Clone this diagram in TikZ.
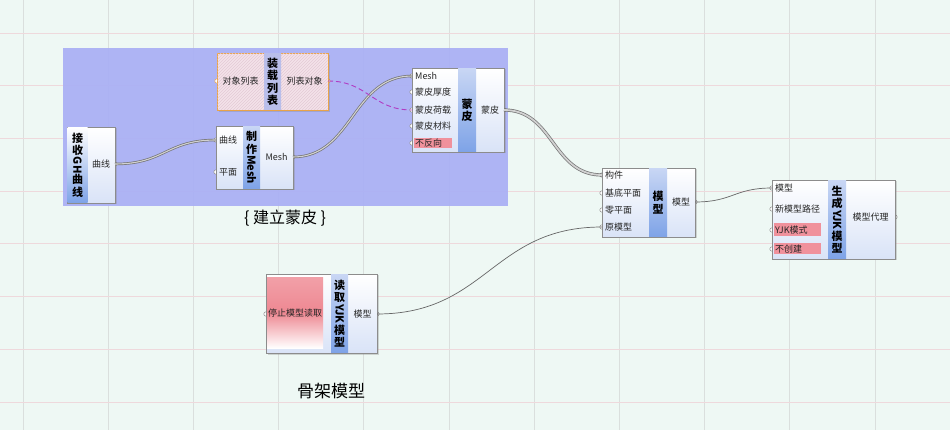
\documentclass[tikz,border=0pt]{standalone}
\usepackage{fontspec}
\setmainfont{Noto Sans CJK SC}
\usepackage{graphicx}
\usetikzlibrary{positioning,patterns,shadows}
\definecolor{canvas}{HTML}{EEF8F4}
\definecolor{gridgrey}{HTML}{DADFDD}
\definecolor{gridpink}{HTML}{EED9DC}
\definecolor{groupblue}{HTML}{A9AFF5}
\definecolor{compblue}{HTML}{D9E3F7}
\definecolor{stripa}{HTML}{C8D6F4}
\definecolor{stripb}{HTML}{7EA3E7}
\definecolor{flagred}{HTML}{F0919C}
\definecolor{stopred}{HTML}{EE8892}
\definecolor{listpink}{HTML}{F4E2E9}
\definecolor{listhatch}{HTML}{E4CAD5}
\definecolor{listedge}{HTML}{E9A34A}
\definecolor{liststrip}{HTML}{B9BEEA}
\definecolor{treewire}{HTML}{B03CC4}
\begin{document}
\begin{tikzpicture}[x=1pt,y=-1pt,
gridv/.style={draw=gridgrey,line width=0.8pt},
gridh/.style={draw=gridpink,line width=0.8pt},
comp/.style={draw=black!45,line width=0.6pt,top color=white,bottom color=compblue,inner sep=0pt,anchor=north west,drop shadow={shadow xshift=1.2pt,shadow yshift=-1.2pt,opacity=.3}},
strip/.style={top color=stripa,bottom color=stripb,inner sep=0pt,anchor=north west,font=\fontsize{11}{12.5}\selectfont\bfseries,align=center},
port/.style={font=\fontsize{9}{10}\selectfont,inner sep=0pt,anchor=west,text=black!85},
outp/.style={font=\fontsize{9}{10}\selectfont,inner sep=0pt,text=black!85},
flag/.style={port,fill=flagred,inner xsep=1pt,minimum width=#1,text width=#1-2pt},
grip/.style={fill=white,draw=black!45,line width=0.5pt},
wire/.style={draw=black!55,double=black!18,double distance=1.1pt,line width=0.7pt},
fatwire/.style={wire,double distance=1.8pt},
thinwire/.style={draw=black!60,line width=0.7pt},
treelink/.style={draw=treewire,dashed,dash pattern=on 5pt off 3pt,line width=0.9pt}]
\useasboundingbox (0,0) rectangle (950,430);
\fill[canvas] (0,0) rectangle (950,430);
\foreach \i in {0,...,10} \draw[gridv] (23+85.2*\i,0) -- (23+85.2*\i,430);
\foreach \j in {0,...,7} \draw[gridh] (0,33+52.7*\j) -- (950,33+52.7*\j);
\fill[groupblue,fill opacity=.92] (63,48) rectangle (508,206);
\node[font=\fontsize{16}{17}\selectfont] (grpname) at (285,218) {\{\ 建立蒙皮\ \}};
\node[font=\fontsize{17}{18}\selectfont] (gjname) at (331,391) {骨架模型};
\coordinate (jso) at (115,164);
\coordinate (mki1) at (216,140); \coordinate (mki2) at (216,172); \coordinate (mko) at (293,157);
\coordinate (zzi) at (217,81); \coordinate (zzo) at (328,81);
\coordinate (mpi1) at (412,76); \coordinate (mpi2) at (412,92); \coordinate (mpi3) at (412,110); \coordinate (mpi4) at (412,126); \coordinate (mpi5) at (412,143); \coordinate (mpo) at (504,110);
\coordinate (mxi1) at (602,175); \coordinate (mxi2) at (602,193); \coordinate (mxi3) at (602,210); \coordinate (mxi4) at (602,227); \coordinate (mxo) at (695,202);
\coordinate (sci1) at (772,188); \coordinate (sci2) at (772,209); \coordinate (sci3) at (772,230); \coordinate (sci4) at (772,249); \coordinate (sco) at (895,217);
\coordinate (dqi) at (266,314); \coordinate (dqo) at (377,314);
\foreach \g in {jso,mki1,mki2,mko,mpi1,mpi2,mpi3,mpi4,mpi5,mpo,mxi1,mxi2,mxi3,mxi4,mxo,sci1,sci2,sci3,sci4,sco,dqi,dqo}
  \filldraw[grip] (\g) circle (2.2);
\filldraw[grip,draw=listedge] (zzi) circle (2.2); \filldraw[grip,draw=listedge] (zzo) circle (2.2);
\node[comp,minimum width=48,minimum height=76] (js) at (67,127) {};
\node[strip,minimum width=20,minimum height=75,top color=white] (jst) at (67.3,127.5) {接\\收\\\rotatebox[origin=c]{-90}{GH}\\曲\\线};
\node[outp] (jsc) at (101,164) {曲线};
\node[comp,minimum width=77,minimum height=63] (mk) at (216,126) {};
\node[strip,minimum width=17,minimum height=62] (mkt) at (243,126.5) {制\\作\\\rotatebox[origin=c]{-90}{Mesh}};
\node[port] (mkc1) at (219,140) {曲线};
\node[port] (mkc2) at (219,172) {平面};
\node[outp] (mkm) at (276.5,157) {Mesh};
\node[comp,draw=listedge,line width=0.9pt,top color=listpink,bottom color=listpink,minimum width=111,minimum height=57] (zz) at (217,53) {};
\fill[pattern=north east lines,pattern color=listhatch] (217.5,53.5) rectangle (327.5,109.5);
\node[strip,top color=liststrip,bottom color=liststrip,minimum width=17,minimum height=56] (zzt) at (264,53.5) {装\\载\\列\\表};
\node[outp] (zzl) at (240.5,81) {对象列表};
\node[outp] (zzr) at (304.5,81) {列表对象};
\node[comp,minimum width=92,minimum height=84] (mp) at (412,68) {};
\node[strip,minimum width=18,minimum height=83] (mpt) at (458,68.5) {蒙\\皮};
\node[port] (mpc1) at (415,76) {Mesh};
\node[port] (mpc2) at (415,92) {蒙皮厚度};
\node[port] (mpc3) at (415,110) {蒙皮荷载};
\node[port] (mpc4) at (415,126) {蒙皮材料};
\node[flag=38pt,minimum height=10] (mpc5) at (414,143) {不反向};
\node[outp] (mpp) at (490,110) {蒙皮};
\node[comp,minimum width=93,minimum height=69] (mx) at (602,168) {};
\node[strip,minimum width=18,minimum height=68] (mxt) at (649,168.5) {模\\型};
\node[port] (mxc1) at (605,175) {构件};
\node[port] (mxc2) at (605,193) {基底平面};
\node[port] (mxc3) at (605,210) {零平面};
\node[port] (mxc4) at (605,227) {原模型};
\node[outp] (mxm) at (681,202) {模型};
\node[comp,minimum width=123,minimum height=79] (sc) at (772,180) {};
\node[strip,minimum width=18,minimum height=78] (sct) at (828,180.5) {生\\成\\\rotatebox[origin=c]{-90}{YJK}\\模\\型};
\node[port] (scc1) at (775,188) {模型};
\node[port] (scc2) at (775,209) {新模型路径};
\node[flag=47pt,minimum height=13] (scc3) at (774,230) {YJK模式};
\node[flag=47pt,minimum height=11] (scc4) at (774,249) {不创建};
\node[outp] (scd) at (870.5,217) {模型代理};
\node[comp,minimum width=111,minimum height=79] (dq) at (266,274) {};
\node[inner sep=0pt,anchor=north west,minimum width=56,minimum height=71,top color=stopred!80!white,bottom color=white,middle color=stopred,font=\fontsize{9}{10}\selectfont,text=black!85] (dqs) at (267,277) {停止模型读取};
\node[strip,minimum width=17,minimum height=78] (dqt) at (331,274.5) {读\\取\\\rotatebox[origin=c]{-90}{YJK}\\模\\型};
\node[outp] (dqm) at (362.5,314) {模型};
\draw[wire] (jso) .. controls +(50,0) and +(-50,0) .. (mki1);
\draw[wire] (mko) .. controls +(60,0) and +(-60,0) .. (mpi1);
\draw[treelink] (zzo) .. controls +(40,0) and +(-40,0) .. (mpi3);
\draw[fatwire] (mpo) .. controls +(50,0) and +(-50,0) .. (mxi1);
\draw[thinwire] (dqo) .. controls +(110,0) and +(-110,0) .. (mxi4);
\draw[thinwire] (mxo) .. controls +(38,0) and +(-38,0) .. (sci1);
\end{tikzpicture}
\end{document}
